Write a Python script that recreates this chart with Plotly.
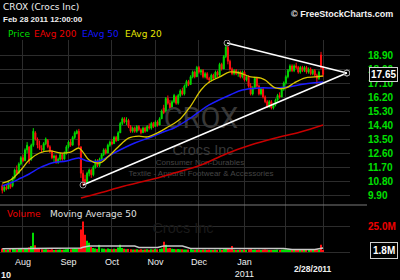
import plotly.graph_objects as go

# ---------------- data (trading-day index: 0 = 2 Aug 2010, 145 = 28 Feb 2011) ----------------
days = list(range(-10, 146))

open_ = [10.5,10.2,10.4,10.3,10.6,10.5,11.0,11.5,11.3,11.9,
         12.3,12.1,12.8,13.0,12.2,13.1,13.9,13.5,13.1,12.9,
         12.8,13.2,13.4,13.0,12.7,12.3,12.4,12.0,12.2,12.5,
         12.2,12.6,13.0,13.3,13.1,13.6,13.85,14.0,13.0,11.3,
         10.9,10.7,11.3,11.5,11.2,11.7,12.1,11.8,12.2,12.5,
         12.8,12.6,13.1,13.3,13.2,13.6,13.4,13.9,14.5,14.8,
         14.6,14.7,14.3,14.0,14.2,14.0,14.3,14.1,13.9,14.2,
         14.0,14.3,14.2,14.5,14.3,14.6,14.4,14.8,15.5,15.3,
         16.1,15.8,15.5,15.9,16.2,15.8,16.3,16.6,16.4,16.9,
         17.2,17.0,17.5,17.8,17.5,18.1,17.8,17.9,17.5,17.7,
         17.4,17.3,17.6,17.4,17.8,17.6,18.3,18.0,18.8,19.4,
         18.5,18.0,17.7,17.9,17.7,17.8,17.5,17.8,17.3,17.5,
         16.9,16.4,16.8,17.4,16.9,16.4,16.7,16.2,15.9,15.6,
         15.9,15.5,15.7,16.0,16.3,16.2,16.7,17.1,17.5,17.9,
         18.2,17.9,18.2,18.1,17.8,18.1,17.9,18.1,17.8,18.0,
         17.7,17.9,17.6,17.4,18.9,18.1]
high = [10.6,10.5,10.6,10.8,10.7,11.1,11.6,11.8,12.0,12.4,
        12.5,12.9,13.3,13.0,13.2,14.2,14.0,13.6,13.4,13.1,
        13.3,13.6,13.5,13.1,12.8,12.5,12.5,12.3,12.6,12.6,
        12.7,13.1,13.4,13.5,13.7,14.0,14.1,14.15,13.0,11.5,
        11.2,11.4,11.6,11.6,11.8,12.2,12.2,12.3,12.6,12.9,
        12.9,13.2,13.4,13.5,13.7,13.7,14.0,14.6,14.9,14.9,
        14.9,14.8,14.4,14.3,14.3,14.4,14.4,14.2,14.3,14.3,
        14.4,14.5,14.6,14.6,14.7,14.7,14.9,15.4,15.7,16.2,
        16.3,16.0,16.0,16.4,16.3,16.4,16.7,16.8,17.0,17.3,
        17.3,17.6,17.9,17.9,18.2,18.2,18.0,18.0,17.8,17.8,
        17.5,17.7,17.7,17.9,17.9,18.4,18.4,18.9,19.6,19.5,
        18.6,18.1,18.0,18.0,17.9,17.9,17.9,17.9,17.6,17.6,
        17.1,16.9,17.5,17.5,17.0,16.8,16.8,16.3,16.0,16.0,
        16.0,15.8,16.1,16.4,16.5,16.8,17.2,17.6,18.0,18.3,
        18.3,18.3,18.4,18.2,18.2,18.2,18.2,18.2,18.1,18.1,
        18.0,18.0,17.7,17.9,19.1,18.2]
low = [10.0,10.1,10.2,10.3,10.3,10.4,10.9,11.2,11.3,11.8,
       12.0,12.1,12.6,11.9,12.1,13.0,13.4,12.9,12.8,12.6,
       12.7,13.1,12.9,12.6,12.2,12.0,11.9,11.9,12.1,12.1,
       12.2,12.5,12.9,13.0,13.1,13.5,13.8,12.9,11.0,10.5,
       10.6,10.7,11.1,11.0,11.1,11.6,11.7,11.7,12.1,12.4,
       12.5,12.6,13.0,13.1,13.2,13.3,13.4,13.9,14.4,14.5,
       14.4,14.2,13.9,13.9,13.9,13.9,14.0,13.8,13.9,13.9,
       14.0,14.1,14.1,14.2,14.3,14.3,14.4,14.8,15.1,15.2,
       15.7,15.4,15.4,15.8,15.7,15.7,16.2,16.3,16.3,16.8,
       16.9,17.0,17.4,17.4,17.5,17.7,17.6,17.4,17.4,17.3,
       17.1,17.2,17.3,17.4,17.5,17.5,17.9,18.0,18.7,18.3,
       17.9,17.6,17.6,17.6,17.5,17.4,17.4,17.2,17.2,16.8,
       16.3,16.3,16.7,16.8,16.3,16.3,16.1,15.8,15.5,15.5,
       15.4,15.4,15.6,15.9,16.1,16.2,16.6,17.0,17.4,17.8,
       17.8,17.8,18.0,17.7,17.7,17.8,17.8,17.7,17.7,17.6,
       17.6,17.5,17.0,17.3,18.0,17.5]
close = [10.2,10.4,10.3,10.7,10.4,11.0,11.5,11.3,11.9,12.3,
         12.1,12.8,13.1,12.1,13.1,14.0,13.5,13.1,12.9,12.8,
         13.2,13.5,13.0,12.7,12.3,12.4,12.0,12.2,12.5,12.2,
         12.6,13.0,13.3,13.1,13.6,13.9,14.0,13.1,11.3,10.8,
         10.7,11.3,11.5,11.2,11.7,12.1,11.8,12.2,12.5,12.8,
         12.6,13.1,13.3,13.2,13.6,13.4,13.9,14.5,14.8,14.6,
         14.7,14.3,14.0,14.2,14.0,14.3,14.1,13.9,14.2,14.0,
         14.3,14.2,14.5,14.3,14.6,14.4,14.8,15.3,15.2,16.1,
         15.8,15.5,15.9,16.3,15.8,16.3,16.6,16.4,16.9,17.2,
         17.0,17.5,17.8,17.5,18.1,17.8,17.9,17.5,17.7,17.4,
         17.3,17.6,17.4,17.8,17.6,18.3,18.0,18.8,19.4,18.5,
         18.0,17.7,17.9,17.7,17.8,17.5,17.8,17.3,17.5,16.9,
         16.4,16.8,17.4,16.9,16.4,16.7,16.2,15.9,15.6,15.9,
         15.5,15.7,16.0,16.3,16.2,16.7,17.1,17.5,17.9,18.2,
         17.9,18.2,18.1,17.8,18.1,17.9,18.1,17.8,18.0,17.7,
         17.9,17.6,17.4,17.8,18.1,17.65]
volume_m = [3.5,2.5,2.0,2.2,2.8,3.0,2.6,2.4,3.2,3.0,
            2.8,3.5,3.0,4.5,6.0,19.0,6.5,3.5,3.0,2.6,
            2.5,2.8,2.4,2.2,2.6,2.0,2.3,2.1,2.4,2.2,
            2.5,2.8,3.0,2.6,3.2,3.6,3.8,4.0,22.0,30.0,
            17.0,11.0,9.0,5.0,4.0,3.5,3.0,7.0,3.5,3.2,
            2.8,3.5,3.0,2.7,3.3,2.9,4.5,7.0,4.0,3.2,
            2.8,3.0,2.6,2.4,2.5,2.7,2.3,2.6,2.2,2.4,
            2.6,2.3,2.7,2.5,2.9,2.6,3.0,3.5,10.0,7.0,
            3.8,4.0,3.2,3.0,2.8,3.0,2.6,2.7,2.5,2.4,
            2.4,2.6,2.3,2.2,2.5,2.1,2.0,2.3,2.2,2.0,
            2.1,1.9,2.0,2.2,1.8,2.4,2.0,2.6,3.5,3.0,
            2.8,6.0,2.2,2.0,1.9,2.1,1.8,2.2,2.0,2.4,
            2.6,2.0,2.2,1.9,2.3,1.8,2.1,2.4,2.2,1.9,
            2.0,1.8,2.1,2.3,1.9,2.2,2.5,2.4,2.6,2.3,
            2.0,2.2,1.9,1.8,2.0,1.7,1.9,1.8,2.0,1.6,
            1.8,1.7,2.6,2.2,7.0,1.8]

ema20_days = [-10,-6,-1,3,8,13,18,23,27,29,32,37,41,46,51,56,60,65,70,76,81,86,90,95,100,105,110,115,117,122,127,131,136,141,145]
ema20_vals = [10.67,10.86,11.51,12.15,12.60,12.73,12.60,12.66,12.92,12.66,12.15,11.96,12.34,12.99,13.56,13.69,13.63,13.89,14.27,14.79,15.62,16.65,17.16,17.49,17.81,17.74,17.49,17.42,17.29,16.78,16.78,17.10,17.42,17.49,17.55]
ema50_days = [-10,-6,-1,3,8,14,21,27,31,37,44,54,62,69,73,81,85,90,100,106,114,122,128,136,145]
ema50_vals = [10.48,10.67,10.99,11.25,11.64,11.96,12.09,12.28,12.09,12.09,12.60,13.24,13.63,14.01,14.21,14.85,15.24,15.69,16.33,16.65,16.78,16.78,16.84,17.04,17.16]
ema200_days = [28,37,49,61,73,86,98,110,122,134,145]
ema200_vals = [9.71,10.03,10.48,10.86,11.31,11.83,12.54,13.11,13.56,13.95,14.40]
vol_ma_days = [-10,5,27,28,29,30,32,54,56,65,68,77,79,81,126,130,141,145]
vol_ma_vals = [3.3,3.5,3.5,4.0,4.7,5.2,5.8,5.9,4.4,4.4,5.9,5.9,4.4,3.4,3.4,2.5,2.5,4.0]

trend_low_days, trend_low_vals = [29, 156.5], [10.54, 17.74]
trend_up_days, trend_up_vals = [98.6, 156.5], [19.67, 17.74]

month_days = [0, 22, 43, 64, 85, 107, 127, 145]
month_labels = ["Aug", "Sep", "Oct", "Nov", "Dec", "Jan<br>2011", "", ""]
price_ticks = [9.9, 10.8, 11.7, 12.6, 13.5, 14.4, 15.3, 16.2, 17.1, 18.0, 18.9]
last_price = 17.65
last_volume = 1.8

# ---------------- layout helpers (pixel -> paper / data) ----------------
W, H = 400, 280
X_RANGE = [-11.1, 158.0]
P_RANGE = [9.257, 19.864]
V_RANGE = [-0.98, 46.1]


def px(x):
    return x / W


def py(y):
    return 1 - y / H


def xd(xp):
    return X_RANGE[0] + xp / 350 * (X_RANGE[1] - X_RANGE[0])


def yd(yp):
    return P_RANGE[1] - (yp - 40) / 165 * (P_RANGE[1] - P_RANGE[0])


def vd(yp):
    return V_RANGE[1] - (yp - 205) / 48 * (V_RANGE[1] - V_RANGE[0])


GREEN = "#00dd00"
RED = "#ff1010"
GRID = "#2c2c2c"

fig = go.Figure()

# watermark (drawn first, under the lines)
wm = [("CROX", 201, 121, "Roboto", 29, "#383838", "y"),
      ("Crocs Inc", 203, 151, "Liberation Sans", 14.5, "#383838", "y"),
      ("Consumer Non-Durables", 200, 163, "Liberation Sans", 8, "#444444", "y"),
      ("Textile - Apparel Footwear & Accessories", 201, 174, "Liberation Sans", 8, "#444444", "y"),
      ("Crocs Inc", 183, 229, "Liberation Sans", 14.5, "#1a1a1a", "y2")]
for t, xp, yp, fam, sz, col, ax in wm:
    fig.add_trace(go.Scatter(x=[xd(xp)], y=[yd(yp) if ax == "y" else vd(yp)], mode="text", text=[t],
                             textposition="middle center", yaxis=ax,
                             textfont=dict(family=fam, size=sz, color=col), hoverinfo="skip"))

fig.add_trace(go.Candlestick(x=days, open=open_, high=high, low=low, close=close,
                             increasing=dict(line=dict(color=GREEN, width=1), fillcolor=GREEN),
                             decreasing=dict(line=dict(color=RED, width=1), fillcolor=RED),
                             whiskerwidth=0, hoverinfo="skip", yaxis="y"))

fig.add_trace(go.Scatter(x=ema200_days, y=ema200_vals, mode="lines",
                         line=dict(color="#c80000", width=1.5, shape="spline"), yaxis="y"))
fig.add_trace(go.Scatter(x=ema50_days, y=ema50_vals, mode="lines",
                         line=dict(color="#1c1cff", width=1.5, shape="spline"), yaxis="y"))
fig.add_trace(go.Scatter(x=ema20_days, y=ema20_vals, mode="lines",
                         line=dict(color="#d8c400", width=1.3, shape="spline"), yaxis="y"))

for xs, ys in [(trend_low_days, trend_low_vals), (trend_up_days, trend_up_vals)]:
    fig.add_trace(go.Scatter(x=xs, y=ys, mode="lines+markers", yaxis="y",
                             line=dict(color="#ffffff", width=1.5),
                             marker=dict(symbol="circle-open", size=6, color="#a0a0a0",
                                         line=dict(width=1, color="#a0a0a0"))))

vol_colors = [GREEN if c >= o else RED for o, c in zip(open_, close)]
fig.add_trace(go.Bar(x=days, y=volume_m, marker=dict(color=vol_colors, line=dict(width=0)),
                     width=0.55, yaxis="y2", hoverinfo="skip"))
fig.add_trace(go.Scatter(x=vol_ma_days, y=vol_ma_vals, mode="lines", yaxis="y2",
                         line=dict(color="#c8c8c8", width=1.5)))

ann = []


def add_text(t, x, y, color, size, family="DejaVu Sans", xanchor="left", **kw):
    ann.append(dict(text=t, x=x, y=y, xref="paper", yref="paper", showarrow=False,
                    xanchor=xanchor, yanchor="middle", font=dict(color=color, size=size, family=family), **kw))


add_text("CROX (Crocs Inc)", px(1), py(7), "#f0f0f0", 9)
add_text("<b>Feb 28 2011 12:00:00</b>", px(1), py(20), "#f0f0f0", 8, "Liberation Sans")
add_text("Price", px(6), py(34), GREEN, 9)
add_text("EAvg 200", px(32), py(34), "#ee0000", 9)
add_text("EAvg 50", px(80), py(34), "#1414ff", 9)
add_text("EAvg 20", px(123), py(34), "#e6e600", 9)
add_text("<b>© FreeStockCharts.com</b>", px(395), py(14), "#f4f4f4", 9, "Liberation Sans", xanchor="right")
add_text("Volume", px(5), py(214), "#ee0000", 9)
add_text("Moving Average 50", px(48), py(214), "#e0e0e0", 9)
add_text("<b>10</b>", px(-1), py(275), "#f0f0f0", 9, "Liberation Sans")
add_text("<b>2/28/2011</b>", px(313), py(269), "#f0f0f0", 8.5, "Liberation Sans", xanchor="center")

ann.append(dict(text="<b>%.2f</b>" % last_price, x=px(383), y=last_price, xref="paper", yref="y",
                showarrow=False, xanchor="center", yanchor="middle",
                font=dict(color="white", size=10, family="Liberation Sans"),
                bgcolor="black", bordercolor="#d0d0d0", borderwidth=1, borderpad=1))
ann.append(dict(text="<b>%.1fM</b>" % last_volume, x=px(383.5), y=last_volume, xref="paper", yref="y2",
                showarrow=False, xanchor="center", yanchor="middle",
                font=dict(color="white", size=10, family="Liberation Sans"),
                bgcolor="black", bordercolor="#d0d0d0", borderwidth=1, borderpad=2))

fig.update_layout(
    width=W, height=H, margin=dict(l=0, r=0, t=0, b=0),
    paper_bgcolor="black", plot_bgcolor="black", showlegend=False,
    annotations=ann,
    shapes=[dict(type="line", xref="paper", yref="paper", x0=0, x1=px(367), y0=py(205), y1=py(205),
                 line=dict(color="#7a7a7a", width=1))],
    xaxis=dict(domain=[0, px(350)], range=X_RANGE, anchor="y2", tickvals=month_days, ticktext=month_labels,
               showgrid=True, gridcolor=GRID, gridwidth=1, zeroline=False, showline=False, ticks="",
               tickfont=dict(family="Liberation Sans", size=9, color="#f0f0f0"),
               rangeslider=dict(visible=False), fixedrange=True, ticklabelstandoff=2),
    yaxis=dict(domain=[py(205), py(40)], range=P_RANGE, anchor="x", side="right",
               tickvals=price_ticks, ticktext=["<b>%.2f</b>" % v for v in price_ticks],
               showgrid=True, gridcolor=GRID, gridwidth=1, zeroline=False, showline=False, ticks="",
               tickfont=dict(family="Liberation Sans", size=10, color="#00e000"), ticklabelstandoff=17),
    yaxis2=dict(domain=[py(253), py(205)], range=V_RANGE, anchor="x", side="right",
                tickvals=[0, 25], ticktext=["", "<b>25.0M</b>"],
                showgrid=True, gridcolor=GRID, gridwidth=1, zeroline=False, showline=False, ticks="",
                tickfont=dict(family="Liberation Sans", size=10, color="#ee0000"), ticklabelstandoff=17),
)

fig.write_html("out.html")
